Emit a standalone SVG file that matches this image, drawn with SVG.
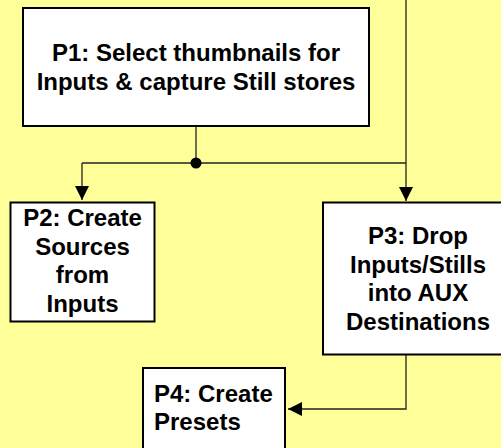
<svg xmlns="http://www.w3.org/2000/svg" width="501" height="448" viewBox="0 0 501 448">
<style>
.box{fill:#FFFFFF;stroke:#000000;stroke-width:2}
.lbl{font-family:"Liberation Sans",Arial,sans-serif;font-weight:bold;font-size:24px;fill:#000000}
.c{text-anchor:middle}
.wire{fill:none;stroke:#222222;stroke-width:1.3}
</style>
<defs>
<marker id="arr" viewBox="0 0 14 14" refX="14" refY="7" markerWidth="14" markerHeight="14" markerUnits="userSpaceOnUse" orient="auto">
<path d="M0,0 L14,7 L0,14 Z" fill="#000000"/>
</marker>
</defs>
<rect x="0" y="0" width="501" height="448" fill="#FFFF99"/>
<g id="connectors">
<path class="wire" d="M196,127 L196,163"/>
<path class="wire" d="M82,163 L406,163"/>
<path class="wire" d="M82,163 L82,200" marker-end="url(#arr)"/>
<path class="wire" d="M406,0 L406,201" marker-end="url(#arr)"/>
<path class="wire" d="M406,355 L406,409 L288,409" marker-end="url(#arr)"/>
<circle cx="196" cy="163" r="5.5" fill="#000000"/>
</g>
<g id="P1">
<rect class="box" x="23" y="8" width="346" height="118"/>
<text class="lbl c" x="196" y="61">P1: Select thumbnails for</text>
<text class="lbl c" x="196" y="90">Inputs &amp; capture Still stores</text>
</g>
<g id="P2">
<rect class="box" x="10.5" y="202.5" width="144" height="119"/>
<text class="lbl c" x="82.5" y="226">P2: Create</text>
<text class="lbl c" x="82.5" y="254.5">Sources</text>
<text class="lbl c" x="82.5" y="283">from</text>
<text class="lbl c" x="82.5" y="311.5">Inputs</text>
</g>
<g id="P3">
<rect class="box" x="323" y="202.5" width="190" height="152"/>
<text class="lbl c" x="418" y="244">P3: Drop</text>
<text class="lbl c" x="418" y="272.5">Inputs/Stills</text>
<text class="lbl c" x="418" y="301">into AUX</text>
<text class="lbl c" x="418" y="329.5">Destinations</text>
</g>
<g id="P4">
<rect class="box" x="143" y="368" width="142" height="120"/>
<text class="lbl" x="154" y="402">P4: Create</text>
<text class="lbl" x="154" y="430">Presets</text>
</g>
</svg>
